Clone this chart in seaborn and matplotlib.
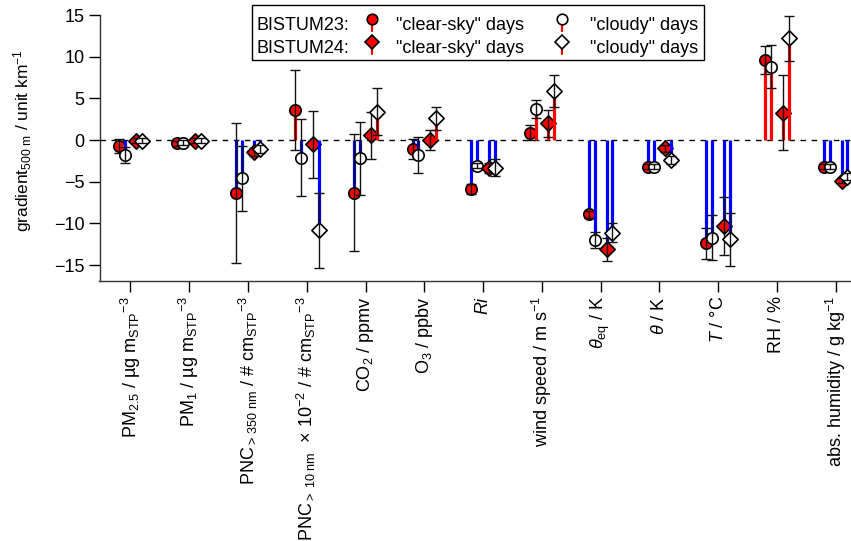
import numpy as np
import pandas as pd
import matplotlib
matplotlib.use("Agg")
import matplotlib.pyplot as plt
import seaborn as sns
from matplotlib.lines import Line2D
from matplotlib.patches import Rectangle

# ---------------- data ----------------
categories = [
    r"PM$_{2.5}$ / µg m$_{\mathrm{STP}}$$^{-3}$",
    r"PM$_{1}$ / µg m$_{\mathrm{STP}}$$^{-3}$",
    r"PNC$_{>\,350\ \mathrm{nm}}$ / # cm$_{\mathrm{STP}}$$^{-3}$",
    r"PNC$_{>\ 10\ \mathrm{nm}}$  × 10$^{-2}$ / # cm$_{\mathrm{STP}}$$^{-3}$",
    r"CO$_{2}$ / ppmv",
    r"O$_{3}$ / ppbv",
    r"$Ri$",
    r"wind speed / m s$^{-1}$",
    r"$\theta_{\mathrm{eq}}$ / K",
    r"$\theta$ / K",
    r"$T$ / °C",
    "RH / %",
    r"abs. humidity / g kg$^{-1}$",
]

clear23 = [-0.7, -0.4, -6.4, 3.6, -6.3, -1.05, -5.9, 0.9, -8.9, -3.2, -12.4, 9.6, -3.2]
clear23_err = [0.8, 0.3, 8.4, 4.8, 7.0, 1.2, 0.6, 0.85, 0.4, 0.3, 1.9, 1.65, 0.3]
cloudy23 = [-1.8, -0.35, -4.6, -2.1, -2.2, -1.8, -3.1, 3.7, -12.0, -3.2, -11.7, 8.8, -3.2]
cloudy23_err = [1.0, 0.3, 3.9, 4.6, 4.4, 2.2, 0.3, 1.1, 1.0, 0.3, 2.7, 2.55, 0.3]
clear24 = [-0.1, -0.1, -1.4, -0.5, 0.55, 0.0, -3.4, 2.0, -13.1, -1.0, -10.3, 3.3, -4.9]
clear24_err = [0.3, 0.3, 0.5, 4.0, 2.85, 1.15, 0.6, 1.6, 1.4, 0.4, 3.45, 4.45, 0.3]
cloudy24 = [-0.1, -0.1, -1.1, -10.8, 3.4, 2.6, -3.3, 5.9, -11.1, -2.4, -11.9, 12.2, -4.4]
cloudy24_err = [0.3, 0.3, 0.5, 4.5, 2.85, 1.4, 1.05, 1.9, 1.1, 0.5, 3.2, 2.7, 0.4]

legend_rows = ["BISTUM23:", "BISTUM24:"]
legend_cols = ['"clear-sky" days', '"cloudy" days']

# ---------------- style ----------------
sns.set_theme(style="ticks")
plt.rcParams.update({
    "font.family": ["Liberation Sans", "DejaVu Sans"],
    "mathtext.fontset": "custom",
    "mathtext.rm": "Liberation Sans",
    "mathtext.it": "Liberation Sans:italic",
    "mathtext.bf": "Liberation Sans:bold",
    "mathtext.sf": "Liberation Sans",
    "font.size": 13,
    "text.color": "black",
    "axes.labelcolor": "black",
    "xtick.color": "black",
    "ytick.color": "black",
})

series = [
    dict(y=clear23, err=clear23_err, marker="o", face="red", off=-0.2, ms=8.2),
    dict(y=cloudy23, err=cloudy23_err, marker="o", face="white", off=-0.1, ms=8.2),
    dict(y=clear24, err=clear24_err, marker="D", face="red", off=0.1, ms=7.8),
    dict(y=cloudy24, err=cloudy24_err, marker="D", face="white", off=0.2, ms=7.8),
]

W, H = 851, 541
fig = plt.figure(figsize=(W / 100, H / 100), dpi=100)
ax_l, ax_r, ax_t, ax_b = 99.5, 851, 15, 281
ax = fig.add_axes([ax_l / W, 1 - ax_b / H, (ax_r - ax_l) / W, (ax_b - ax_t) / H])

x = np.arange(len(categories))
ax.axhline(0, color="black", lw=1.0, ls=(0, (4, 4)), zorder=2)

for i, s in enumerate(series):
    xs = x + s["off"]
    ys = np.asarray(s["y"], dtype=float)
    cols = np.where(ys < 0, "#0000ff", "#ff0000")
    ax.vlines(xs, 0, ys, colors=cols, lw=2.3, zorder=3 + 3 * i)
    df = pd.DataFrame({"x": xs, "y": ys})
    sns.scatterplot(data=df, x="x", y="y", ax=ax, marker=s["marker"],
                    s=s["ms"] ** 2, color=s["face"], edgecolor="black",
                    linewidth=1.2, zorder=4 + 3 * i, legend=False)
    ax.errorbar(xs, ys, yerr=s["err"], fmt="none", ecolor="#111111",
                elinewidth=1.0, capsize=3.8, capthick=1.0, zorder=5 + 3 * i)

ax.set_xlim(-0.527, 12.26)
ax.set_ylim(-16.9, 15.0)
ax.set_yticks([-15, -10, -5, 0, 5, 10, 15])
ax.set_xticks(x)
ax.set_xticklabels(categories, rotation=90, fontsize=13)
ax.set_xlabel("")
ax.set_ylabel(r"gradient$_{500\ \mathrm{m}}$ / unit km$^{-1}$", fontsize=12.5)
ax.yaxis.set_label_coords(-0.087, 0.53)
ax.tick_params(axis="both", direction="out", length=7.8, width=1.0,
               color="black", labelsize=13, pad=3)
sns.despine(ax=ax)
for sp in ("left", "bottom"):
    ax.spines[sp].set_color("#333333")
    ax.spines[sp].set_linewidth(1.0)


# ---------------- legend (drawn in figure pixels) ----------------
def fx(px):
    return px / W


def fy(py):
    return 1 - py / H


fig.add_artist(Rectangle((fx(252), fy(60)), (704 - 252) / W, 55 / H,
                         transform=fig.transFigure, facecolor="white",
                         edgecolor="black", lw=1.0, zorder=20))

row_base = [30, 53]
row_mark = [19, 42]
row_markers = ["o", "D"]
col_text_x = [396.5, 590]
col_mark_x = [372, 562]
col_faces = ["red", "white"]
mk_size = {"o": 7.6, "D": 7.0}

for r in range(2):
    fig.text(fx(257), fy(row_base[r]), legend_rows[r], fontsize=13,
             va="baseline", ha="left", zorder=21)
    for c in range(2):
        fig.text(fx(col_text_x[c]), fy(row_base[r]), legend_cols[c],
                 fontsize=13, va="baseline", ha="left", zorder=21)
        mx = col_mark_x[c]
        fig.add_artist(Line2D([fx(mx), fx(mx)], [fy(row_mark[r]), fy(row_mark[r] + 12)],
                              color="red", lw=1.6, transform=fig.transFigure,
                              zorder=21))
        fig.add_artist(Line2D([fx(mx)], [fy(row_mark[r])], marker=row_markers[r],
                              ms=mk_size[row_markers[r]], mfc=col_faces[c],
                              mec="black", mew=1.2, ls="none",
                              transform=fig.transFigure, zorder=22))

fig.savefig("out.png", dpi=100)
